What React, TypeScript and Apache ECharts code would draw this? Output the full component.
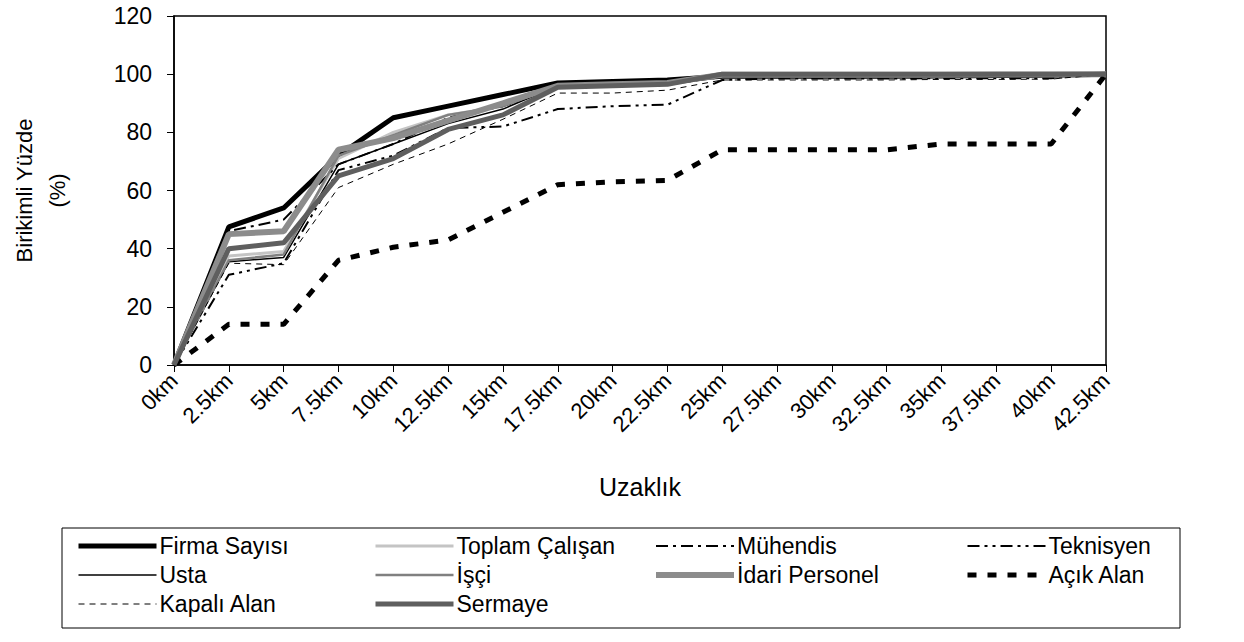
import React, { useEffect, useRef } from "react";
import * as echarts from "echarts";

const categories = ["0km","2.5km","5km","7.5km","10km","12.5km","15km","17.5km","20km","22.5km","25km","27.5km","30km","32.5km","35km","37.5km","40km","42.5km"];
const yTicks = [0, 20, 40, 60, 80, 100, 120];

const firmaSayisi = [0, 47.5, 54, 72, 85, 89, 93, 97, 97.5, 98, 99.3, 99.3, 99.3, 99.3, 99.4, 99.5, 99.6, 100];
const toplamCalisan = [0, 37.5, 39, 71, 80, 86, 89, 95.5, 96, 96.5, 99.5, 99.6, 99.6, 99.7, 99.7, 99.8, 99.8, 100];
const muhendis = [0, 46, 50, 69, 76, 85, 89, 95.5, 96, 96.5, 99, 99, 99, 99, 99.2, 99.2, 99.3, 100];
const teknisyen = [0, 31, 35, 67, 72, 81.5, 82, 88, 89, 89.5, 98, 98.5, 98.5, 98.5, 98.6, 98.6, 98.6, 100];
const usta = [0, 35.5, 37, 69, 76, 83, 88, 96, 96.5, 97, 99.5, 99.5, 99.5, 99.6, 99.6, 99.7, 99.7, 100];
const isci = [0, 36, 38, 72, 79, 86, 89, 96, 96.5, 97, 99.6, 99.6, 99.6, 99.7, 99.7, 99.8, 99.8, 100];
const idariPersonel = [0, 45, 46, 74, 78, 84, 90, 96, 96.5, 97, 99.8, 99.8, 99.8, 99.8, 99.8, 99.9, 99.9, 100];
const acikAlan = [0, 14, 14, 36, 40.5, 43, 52.5, 62, 63, 63.5, 74, 74, 74, 74, 76, 76, 76, 100];
const kapaliAlan = [0, 35, 34.5, 61, 69, 76, 84.5, 93.5, 93.5, 94.5, 98, 98, 98, 98, 98.2, 98.2, 98.3, 100];
const sermaye = [0, 40, 42, 65, 71, 81, 86, 95.5, 96, 96.5, 100, 100, 100, 100, 100, 100, 100, 100];

const FONT = "'Liberation Sans', Arial, sans-serif";

type S = { name: string; data: number[]; color: string; width: number; type: any };
const seriesDefs: S[] = [
  { name: "Firma Sayısı", data: firmaSayisi, color: "#000000", width: 5, type: "solid" },
  { name: "Toplam Çalışan", data: toplamCalisan, color: "#c4c4c4", width: 3, type: "solid" },
  { name: "Mühendis", data: muhendis, color: "#000000", width: 2, type: [12, 5, 3, 5] },
  { name: "Teknisyen", data: teknisyen, color: "#000000", width: 2, type: [12, 5, 3, 5, 3, 5] },
  { name: "Usta", data: usta, color: "#000000", width: 1.5, type: "solid" },
  { name: "İşçi", data: isci, color: "#808080", width: 2.5, type: "solid" },
  { name: "İdari Personel", data: idariPersonel, color: "#8c8c8c", width: 6, type: "solid" },
  { name: "Açık Alan", data: acikAlan, color: "#000000", width: 5, type: [9, 11] },
  { name: "Kapalı Alan", data: kapaliAlan, color: "#000000", width: 1, type: [6, 5] },
  { name: "Sermaye", data: sermaye, color: "#5f5f5f", width: 5, type: "solid" },
];

const legendColumns: { names: string[]; left: number }[] = [
  { names: ["Firma Sayısı", "Usta", "Kapalı Alan"], left: 76 },
  { names: ["Toplam Çalışan", "İşçi", "Sermaye"], left: 373 },
  { names: ["Mühendis", "İdari Personel"], left: 653 },
  { names: ["Teknisyen", "Açık Alan"], left: 965 },
];

export default function App() {
  const ref = useRef<HTMLDivElement>(null);
  useEffect(() => {
    if (!ref.current) return;
    const chart = echarts.init(ref.current, undefined, { renderer: "svg" });
    const byName: Record<string, S> = {};
    seriesDefs.forEach((s) => (byName[s.name] = s));
    chart.setOption({
      animation: false,
      backgroundColor: "#ffffff",
      textStyle: { fontFamily: FONT },
      grid: { left: 172, right: 138, top: 16, bottom: 277, show: true, borderColor: "#000", borderWidth: 1.5, backgroundColor: "transparent" },
      xAxis: {
        type: "category",
        data: categories,
        boundaryGap: false,
        name: "Uzaklık",
        nameLocation: "middle",
        nameGap: 109,
        nameTextStyle: { fontSize: 25, color: "#000", fontFamily: FONT },
        axisLine: { lineStyle: { color: "#000", width: 1.5 } },
        axisTick: { show: true, length: 7, lineStyle: { color: "#000" }, alignWithLabel: true },
        axisLabel: { rotate: 45, fontSize: 22, color: "#000", margin: 12, interval: 0, fontFamily: FONT },
        splitLine: { show: false },
      },
      yAxis: {
        type: "value",
        min: yTicks[0],
        max: yTicks[yTicks.length - 1],
        interval: 20,
        name: "Birikimli Yüzde\n(%)",
        nameLocation: "middle",
        nameGap: 100,
        nameTextStyle: { fontSize: 22, color: "#000", fontFamily: FONT, lineHeight: 33, align: "center" },
        axisLine: { show: true, lineStyle: { color: "#000", width: 1.5 } },
        axisTick: { show: true, length: 7, lineStyle: { color: "#000" } },
        axisLabel: { fontSize: 23, color: "#000", margin: 22, fontFamily: FONT },
        splitLine: { show: false },
      },
      legend: legendColumns.map((c) => ({
        orient: "vertical",
        left: c.left,
        top: 534,
        itemWidth: 78,
        itemHeight: 14,
        itemGap: 5,
        padding: 0,
        selectedMode: false,
        textStyle: { fontSize: 23, lineHeight: 24, color: "#000", fontFamily: FONT, padding: [0, 0, 0, -2] },
        data: c.names.map((n) => ({
          name: n,
          itemStyle: { opacity: 0 },
          lineStyle: { width: byName[n].width, type: byName[n].type, color: byName[n].color },
        })),
      })),
      graphic: [
        {
          type: "rect",
          shape: { x: 62, y: 528, width: 1118, height: 100 },
          style: { fill: "none", stroke: "#000", lineWidth: 1 },
          silent: true,
        },
      ],
      series: seriesDefs.map((s) => ({
        name: s.name,
        type: "line",
        data: s.data,
        symbol: "none",
        showSymbol: false,
        lineStyle: { color: s.color, width: s.width, type: s.type },
        itemStyle: { color: s.color },
        emphasis: { disabled: true },
      })),
    });
    return () => chart.dispose();
  }, []);
  return <div ref={ref} style={{ width: 1244, height: 642, position: "absolute", left: 0, top: 0 }} />;
}
